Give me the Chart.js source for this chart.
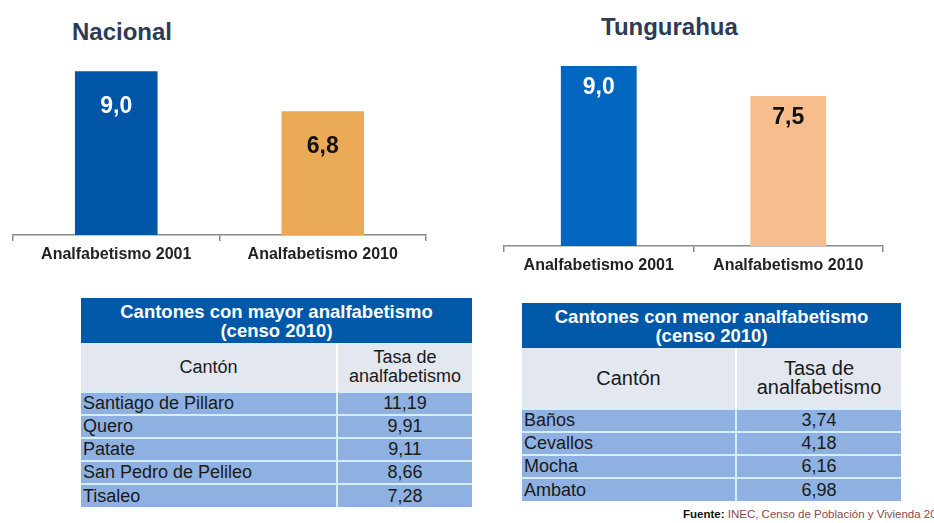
<!DOCTYPE html>
<html>
<head>
<meta charset="utf-8">
<script src="https://cdn.jsdelivr.net/npm/chart.js@4"></script>
<style>
  body { margin: 0; background: #fff; font-family: "Liberation Sans", Arial, sans-serif; }
  #page { position: relative; width: 934px; height: 523px; overflow: hidden; }
  .titulo { position: absolute; font-weight: bold; font-size: 24px; color: #2d3b55; line-height: 26px; }
  .cv { position: absolute; }
  table.tabla { position: absolute; border-collapse: collapse; table-layout: fixed; color: #1a1a1a; }
  table.tabla td { padding: 0 2px; line-height: 19px; }
  td.cab { background: #0058a8; color: #fff; font-weight: bold; font-size: 18.5px; text-align: center; line-height: 21px; }
  td.col { background: #e2e7f0; text-align: center; font-size: 18px; line-height: 20px; border-right: 2px solid #fff; }
  td.dato { background: #8fb1e1; font-size: 18px; border-top: 2px solid #d6eefb; border-right: 2px solid #d6eefb; }
  td.num { text-align: center; }
  #fuente { position: absolute; left: 683px; top: 508px; font-size: 11.5px; color: #8a4a4a; white-space: nowrap; }
  #fuente b { color: #111; }
</style>
</head>
<body>
<div id="page">
  <div class="titulo" style="left:72px; top:19px;">Nacional</div>
  <div class="titulo" style="left:601px; top:14px;">Tungurahua</div>
  <canvas id="chartNacional" class="cv" width="450" height="270" style="left:0; top:0;"></canvas>
  <canvas id="chartTungurahua" class="cv" width="450" height="281" style="left:470px; top:0;"></canvas>
  <table id="tablaMayor" class="tabla" style="left:81px; top:298px; width:391px;"></table>
  <table id="tablaMenor" class="tabla" style="left:522px; top:303px; width:379px;"></table>
  <div id="fuente"><b>Fuente:</b> INEC, Censo de Población y Vivienda 2010</div>
</div>
<script>
const categorias = ['Analfabetismo 2001', 'Analfabetismo 2010'];
const nacional = [9.0, 6.8];
const tungurahua = [9.0, 7.5];

const mayorCantones = ['Santiago de Pillaro', 'Quero', 'Patate', 'San Pedro de Pelileo', 'Tisaleo'];
const mayorTasas = ['11,19', '9,91', '9,11', '8,66', '7,28'];
const menorCantones = ['Baños', 'Cevallos', 'Mocha', 'Ambato'];
const menorTasas = ['3,74', '4,18', '6,16', '6,98'];

// etiquetas de valor dentro de cada barra
const etiquetas = {
    id: 'etiquetas',
    afterDatasetsDraw(chart, args, opts) {
        const ctx = chart.ctx;
        const meta = chart.getDatasetMeta(0);
        const data = chart.data.datasets[0].data;
        ctx.save();
        ctx.font = 'bold 23px "Liberation Sans", Arial, sans-serif';
        ctx.textAlign = 'center';
        ctx.textBaseline = 'middle';
        meta.data.forEach((bar, i) => {
            ctx.fillStyle = opts.colores[i];
            ctx.fillText(data[i].toFixed(1).replace('.', ','), bar.x, bar.y + opts.offset);
        });
        ctx.restore();
    }
};

function crearGrafico(id, valores, colores, padding, offset) {
    new Chart(document.getElementById(id), {
        type: 'bar',
        data: {
            labels: categorias,
            datasets: [{
                data: valores,
                backgroundColor: colores,
                barPercentage: 0.4,
                categoryPercentage: 1
            }]
        },
        options: {
            responsive: false,
            animation: false,
            layout: { padding: padding },
            plugins: {
                legend: { display: false },
                tooltip: { enabled: false },
                etiquetas: { colores: ['#ffffff', '#111111'], offset: offset }
            },
            scales: {
                y: { display: false, min: 0, max: 10 },
                x: {
                    afterFit: (scale) => { scale.height = 30; },
                    border: { display: true, color: '#8a8a8a', width: 1.5 },
                    grid: { display: true, offset: true, drawOnChartArea: false, drawTicks: true, tickLength: 6, color: '#8a8a8a', lineWidth: 1.5 },
                    ticks: { color: '#222', padding: 4, font: { family: '"Liberation Sans", Arial, sans-serif', size: 16, weight: 'bold' } }
                }
            }
        },
        plugins: [etiquetas]
    });
}

crearGrafico('chartNacional', nacional, ['#0055a6', '#eaa954'], { left: 13, right: 24, top: 53, bottom: 5 }, 35);
crearGrafico('chartTungurahua', tungurahua, ['#0066c0', '#f8bd8c'], { left: 34, right: 37, top: 46, bottom: 5 }, 22);

function crearTabla(id, titulo, cantones, tasas, anchos, altoCab, altoFila, tamCab) {
    const t = document.getElementById(id);
    let html = '<colgroup><col style="width:' + anchos[0] + 'px"><col style="width:' + anchos[1] + 'px"></colgroup>';
    html += '<tr style="height:45px"><td class="cab" colspan="2">' + titulo + '<br>(censo 2010)</td></tr>';
    html += '<tr style="height:' + altoCab + 'px;font-size:' + tamCab + 'px"><td class="col" style="font-size:inherit">Cantón</td><td class="col" style="border-right:none;font-size:inherit">Tasa de<br>analfabetismo</td></tr>';
    cantones.forEach((c, i) => {
        html += '<tr style="height:' + altoFila + 'px"><td class="dato">' + c + '</td><td class="dato num" style="border-right:none">' + tasas[i] + '</td></tr>';
    });
    t.innerHTML = html;
}

crearTabla('tablaMayor', 'Cantones con mayor analfabetismo', mayorCantones, mayorTasas, [256, 135], 49, 23, 18);
crearTabla('tablaMenor', 'Cantones con menor analfabetismo', menorCantones, menorTasas, [214, 165], 61, 23, 20);
</script>
</body>
</html>
